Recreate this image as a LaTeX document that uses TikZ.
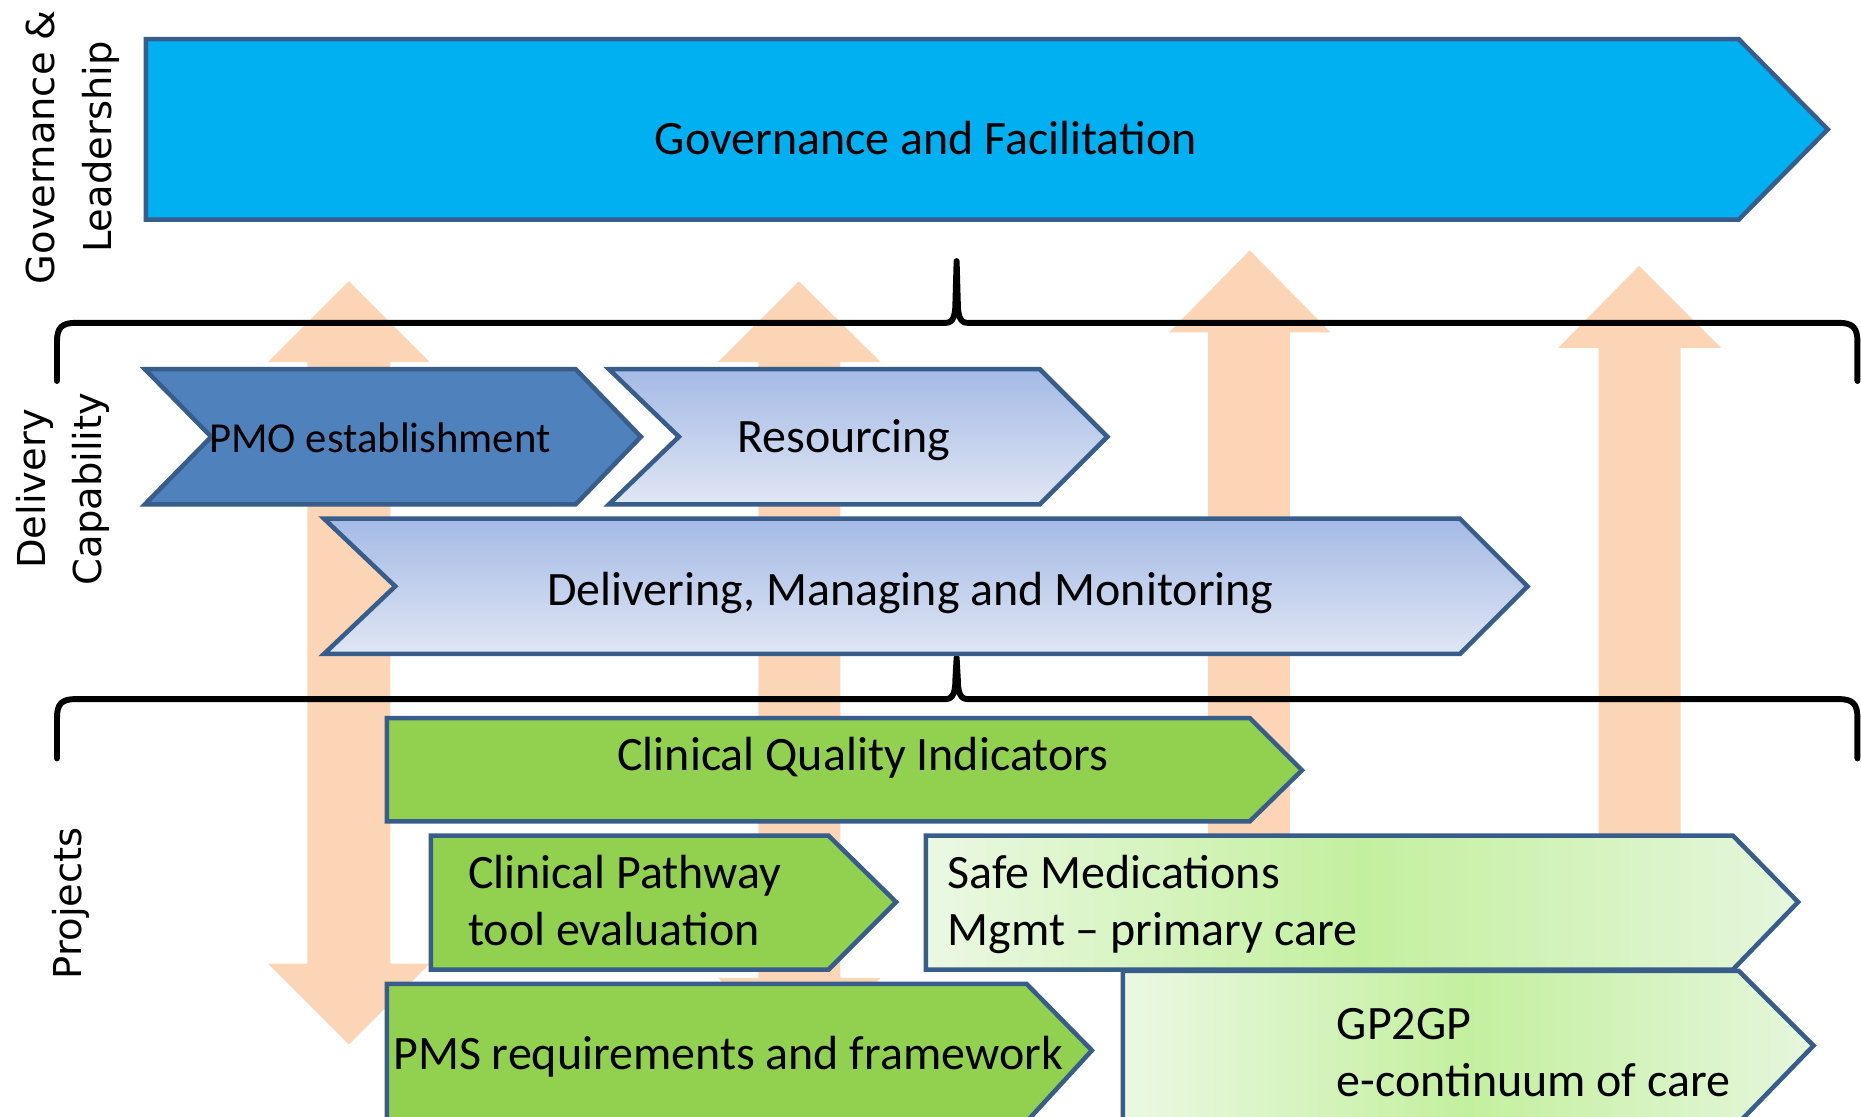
\documentclass[tikz,border=0pt]{standalone}
\usepackage{fontspec}
\setmainfont{Carlito}
\newfontfamily\sidefont{DejaVu Sans}
\definecolor{bordc}{HTML}{385D8A}
\definecolor{govc}{HTML}{00B0F0}
\definecolor{pmoc}{HTML}{4F81BD}
\definecolor{greenc}{HTML}{92D050}
\definecolor{peach}{HTML}{FBD5B5}
\definecolor{blueT}{HTML}{A4BAE5}
\definecolor{blueB}{HTML}{E0E6F4}
\definecolor{lgA}{HTML}{EBF8E3}
\definecolor{lgB}{HTML}{C3F09E}
\definecolor{lgC}{HTML}{E6F6DD}
\pgfdeclarehorizontalshading{safemedsh}{100bp}{color(0bp)=(lgA); color(25bp)=(lgA); color(50bp)=(lgB); color(75bp)=(lgC); color(100bp)=(lgC)}
\pgfdeclarehorizontalshading{gpsh}{100bp}{color(0bp)=(lgA); color(25bp)=(lgA); color(50bp)=(lgB); color(75bp)=(lgC); color(100bp)=(lgC)}
\tikzset{
  box/.style={draw=bordc, line width=1.9pt, line join=miter},
  boxtext/.style={font=\fontsize{20.2}{24}\selectfont, inner sep=0pt, text=black},
  sidelabel/.style={font=\sidefont\fontsize{16.2}{24}\selectfont, rotate=90, align=center, inner sep=0pt},
  bracepath/.style={draw=black, line width=2.5pt, line cap=round, line join=round},
}
\newcommand{\drawbrace}[3]{%
  \draw[bracepath] (48,#2) -- (48,#1+16) .. controls (48,#1+4) and (52,#1) .. (64,#1)
    -- (797,#1) .. controls (803,#1) and (805,#1-6) .. (805,#1-17) -- (806,#3)
    -- (807,#1-17) .. controls (807,#1-6) and (809,#1) .. (815,#1)
    -- (1549,#1) .. controls (1561,#1) and (1565,#1+4) .. (1565,#1+16) -- (1565,#2);}
\begin{document}
\begin{tikzpicture}[x=0.5pt,y=-0.5pt]
\useasboundingbox (0,0) rectangle (1568,941);
\clip (0,0) rectangle (1568,941);
% peach arrows
\fill[peach] (259,305) -- (226,305) -- (294,237) -- (362,305) -- (329,305) -- (329,812) -- (362,812) -- (294,880) -- (226,812) -- (259,812) -- cycle;
\fill[peach] (639,305) -- (605,305) -- (673,237) -- (742,305) -- (708,305) -- (708,824) -- (742,824) -- (673,892) -- (605,824) -- (639,824) -- cycle;
\fill[peach] (1018,280) -- (985,280) -- (1053,211) -- (1121,280) -- (1087,280) -- (1087,780) -- (1018,780) -- cycle;
\fill[peach] (1347,293) -- (1313,293) -- (1381,224) -- (1450,293) -- (1416,293) -- (1416,780) -- (1347,780) -- cycle;
% braces
\drawbrace{272}{321}{220}
\drawbrace{589}{639}{554}
% governance
\draw[box, fill=govc] (123,33) -- (1465,33) -- (1540,109) -- (1465,185) -- (123,185) -- cycle;
\node[boxtext, anchor=base] (gov) at (780,130) {Governance and Facilitation};
% delivery capability
\draw[box, fill=pmoc] (122,311) -- (485,311) -- (540,368) -- (485,425) -- (122,425) -- (178,368) -- cycle;
\node[boxtext, font=\fontsize{18}{22}\selectfont, anchor=base west] (pmo) at (176,381) {PMO establishment};
\draw[box, top color=blueT, bottom color=blueB] (513,311) -- (876,311) -- (933,368) -- (876,425) -- (513,425) -- (572,368) -- cycle;
\node[boxtext, anchor=base] (res) at (711,381) {Resourcing};
\draw[box, top color=blueT, bottom color=blueB] (273,437) -- (1230,437) -- (1287,494) -- (1230,551) -- (273,551) -- (333,494) -- cycle;
\node[boxtext, anchor=base] (dmm) at (767,510) {Delivering, Managing and Monitoring};
% projects
\draw[box, fill=greenc] (326,605) -- (1053,605) -- (1097,649) -- (1053,692) -- (326,692) -- cycle;
\node[boxtext, anchor=base] (cqi) at (727,649) {Clinical Quality Indicators};
\draw[box, fill=greenc] (363,704) -- (698,704) -- (755,760) -- (698,817) -- (363,817) -- cycle;
\node[boxtext, align=left, anchor=base west] (cpt) at (394,797) {Clinical Pathway\\tool evaluation};
\draw[box, shade, shading=safemedsh] (780,704) -- (1460,704) -- (1515,760) -- (1460,817) -- (780,817) -- cycle;
\node[boxtext, align=left, anchor=base west] (smm) at (798,797) {Safe Medications\\Mgmt -- primary care};
\draw[box, fill=greenc] (326,829) -- (865,829) -- (920,885) -- (865,945) -- (326,945) -- cycle;
\node[boxtext, anchor=base west] (pms) at (331,901) {PMS requirements and framework};
\draw[box, shade, shading=gpsh] (946,818) -- (1465,818) -- (1528,881) -- (1465,946) -- (946,946) -- cycle;
\node[boxtext, align=left, anchor=base west] (gp) at (1126,924) {GP2GP\\e-continuum of care};
% side labels
\node[sidelabel] (lgov) at (61,124) {Governance \&\\Leadership};
\node[sidelabel] (ldel) at (53,412) {Delivery\\Capability};
\node[sidelabel] (lproj) at (60,761) {Projects};
\end{tikzpicture}
\end{document}
